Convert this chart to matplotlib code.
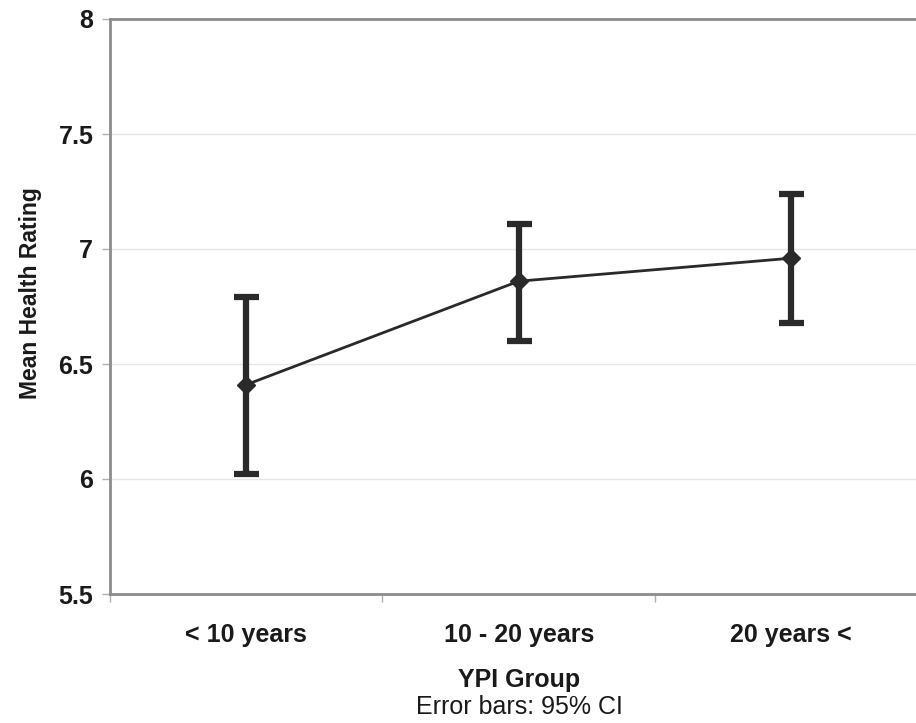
import matplotlib
matplotlib.use("Agg")
import matplotlib.pyplot as plt

plt.rcParams['font.family'] = ['Liberation Sans', 'DejaVu Sans']

groups = ['< 10 years', '10 - 20 years', '20 years <']
means = [6.41, 6.86, 6.96]
ci_low = [6.02, 6.60, 6.68]
ci_high = [6.79, 7.11, 7.24]
yticks = [5.5, 6, 6.5, 7, 7.5, 8]
ytick_labels = ['5.5', '6', '6.5', '7', '7.5', '8']

W, H = 916, 723
fig = plt.figure(figsize=(W / 100, H / 100), dpi=100)
ax = fig.add_axes([110 / W, 1 - 594 / H, 817.5 / W, 575 / H])

ink = '#2a2a2a'
txt = '#1a1a1a'
x = list(range(len(groups)))
err_lo = [m - l for m, l in zip(means, ci_low)]
err_hi = [h - m for m, h in zip(means, ci_high)]

ax.plot(x, means, color=ink, lw=2, zorder=3)
ax.errorbar(x, means, yerr=[err_lo, err_hi], fmt='D', color=ink, ms=9,
            ecolor=ink, elinewidth=4.5, capsize=9, capthick=4.5, zorder=4)

ax.set_xlim(-0.5, 2.5)
ax.set_ylim(5.5, 8)
ax.set_yticks(yticks)
ax.set_yticklabels(ytick_labels)
ax.set_xticks(x)
ax.set_xticklabels(groups)
ax.set_xticks([-0.5, 0.5, 1.5, 2.5], minor=True)

for y in yticks[1:-1]:
    ax.axhline(y, color='#e6e6e6', lw=1, zorder=1)

for side in ['left', 'bottom', 'top']:
    ax.spines[side].set_color('#8c8c8c')
    ax.spines[side].set_linewidth(2)
ax.spines['right'].set_visible(False)

ax.tick_params(axis='y', length=6, width=1, color='#b0b0b0', pad=6,
               labelsize=18, labelcolor=txt)
ax.tick_params(axis='x', which='major', length=0, pad=21,
               labelsize=18, labelcolor=txt)
ax.tick_params(axis='x', which='minor', length=6, width=1, color='#b0b0b0')
for lab in ax.get_xticklabels() + ax.get_yticklabels():
    lab.set_fontweight('bold')

fig.text(31 / W, 1 - 293 / H, 'Mean Health Rating', rotation=90,
         ha='center', va='center', fontsize=16.5, fontweight='bold', color=txt)
fig.text(519 / W, 1 - 680 / H, 'YPI Group', ha='center', va='center',
         fontsize=18, fontweight='bold', color=txt)
fig.text(519 / W, 1 - 707 / H, 'Error bars: 95% CI', ha='center', va='center',
         fontsize=18, color=txt)

fig.savefig('out.png', dpi=100)
